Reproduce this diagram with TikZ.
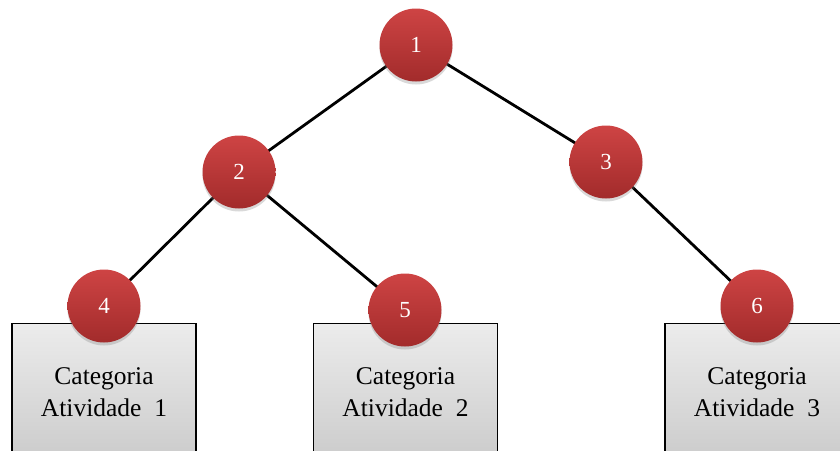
\documentclass[tikz,border=0pt]{standalone}
\usepackage{fontspec}
\setmainfont{Liberation Serif}
\usetikzlibrary{shadows}
\begin{document}
\begin{tikzpicture}[x=1pt,y=-1pt,
  treenode/.style={circle, minimum size=73pt, inner sep=0pt,
    shading angle=0, draw=none, text=white,
    font=\fontsize{23}{27}\selectfont,
    drop shadow={shadow xshift=0pt, shadow yshift=-3pt, opacity=0.3}},
  catbox/.style={draw=black, line width=1.2pt, minimum width=184pt, minimum height=160pt,
    anchor=north, top color=gray!15, bottom color=gray!45, inner sep=0pt},
  cattext/.style={align=center, font=\fontsize{25.5}{32}\selectfont, text=black},
  link/.style={line width=2.8pt, black}]
\useasboundingbox (0,0) rectangle (840,450);
\clip (0,0) rectangle (840,450);
\definecolor{nodetop}{HTML}{CE4444}
\definecolor{nodebot}{HTML}{A22B2B}
\tikzset{treenode/.append style={top color=nodetop, bottom color=nodebot}}
% category boxes
\node[catbox] (b1) at (104,323) {};
\node[catbox] (b2) at (405.5,323) {};
\node[catbox] (b3) at (757,323) {};
\node[cattext] (t1) at (104,392) {Categoria\\Atividade~~1};
\node[cattext] (t2) at (405.5,392) {Categoria\\Atividade~~2};
\node[cattext] (t3) at (757,392) {Categoria\\Atividade~~3};
% tree node positions
\coordinate (p1) at (416,45);
\coordinate (p2) at (239,172);
\coordinate (p3) at (606,162);
\coordinate (p4) at (104,306);
\coordinate (p5) at (405,310);
\coordinate (p6) at (757,306);
% links
\draw[link] (p1) -- (p2);
\draw[link] (p1) -- (p3);
\draw[link] (p2) -- (p4);
\draw[link] (p2) -- (p5);
\draw[link] (p3) -- (p6);
% nodes
\node[treenode] (n1) at (p1) {1};
\node[treenode] (n2) at (p2) {2};
\node[treenode] (n3) at (p3) {3};
\node[treenode] (n4) at (p4) {4};
\node[treenode] (n5) at (p5) {5};
\node[treenode] (n6) at (p6) {6};
\end{tikzpicture}
\end{document}
